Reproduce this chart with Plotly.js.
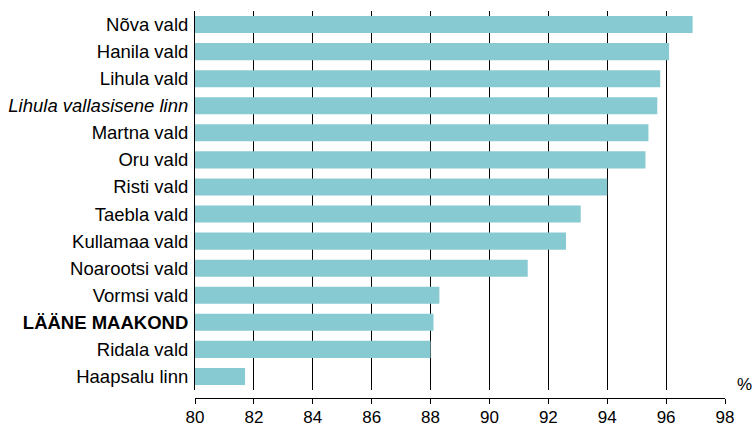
<!DOCTYPE html>
<html>
<head>
<meta charset="utf-8">
<script src="https://cdn.plot.ly/plotly-3.0.1.min.js"></script>
<style>html,body{margin:0;padding:0;background:#fff;}#chart{width:752px;height:427px;}</style>
</head>
<body>
<div id="chart"></div>
<script>
const categories = ["Nõva vald","Hanila vald","Lihula vald","Lihula vallasisene linn","Martna vald","Oru vald","Risti vald","Taebla vald","Kullamaa vald","Noarootsi vald","Vormsi vald","LÄÄNE MAAKOND","Ridala vald","Haapsalu linn"];
const labels = ["Nõva vald","Hanila vald","Lihula vald","<i>Lihula vallasisene linn</i>","Martna vald","Oru vald","Risti vald","Taebla vald","Kullamaa vald","Noarootsi vald","Vormsi vald","<b>LÄÄNE MAAKOND</b>","Ridala vald","Haapsalu linn"];
const values = [96.9, 96.1, 95.8, 95.7, 95.4, 95.3, 94.0, 93.1, 92.6, 91.3, 88.3, 88.1, 88.0, 81.7];
const xTicks = [80,82,84,86,88,90,92,94,96,98];

const trace = {
  type: 'bar', orientation: 'h',
  x: values, y: categories,
  marker: {color: '#88CAD1'},
  hoverinfo: 'none'
};
const layout = {
  width: 752, height: 427,
  margin: {l: 195, r: 27, t: 11, b: 29},
  paper_bgcolor: '#fff', plot_bgcolor: '#fff',
  font: {family: 'Liberation Sans, Arial, sans-serif', color: '#000', size: 18},
  bargap: 0.37,
  showlegend: false,
  xaxis: {
    range: [80, 98], tickvals: xTicks, ticktext: xTicks.map(String),
    showgrid: true, gridcolor: '#000', gridwidth: 1, zeroline: false,
    showline: true, linecolor: '#000', linewidth: 1,
    ticks: 'outside', ticklen: 5, tickcolor: '#000',
    anchor: 'free', position: 0,
    tickfont: {size: 17},
    ticklabelstandoff: -1
  },
  yaxis: {
    domain: [0.0207, 1],
    type: 'category', categoryorder: 'array', categoryarray: categories.slice().reverse(),
    tickvals: categories, ticktext: labels,
    autorange: true,
    showgrid: false, zeroline: false,
    showline: true, linecolor: '#000', linewidth: 1,
    ticks: '', tickfont: {size: 18.5},
    ticklabelstandoff: 2
  },
  annotations: [{
    text: '%', xref: 'paper', yref: 'paper', x: 1, y: 0.034,
    xanchor: 'left', yanchor: 'middle', xshift: 10, showarrow: false,
    font: {size: 17}
  }]
};
Plotly.newPlot('chart', [trace], layout, {staticPlot: true, displayModeBar: false});
</script>
</body>
</html>
